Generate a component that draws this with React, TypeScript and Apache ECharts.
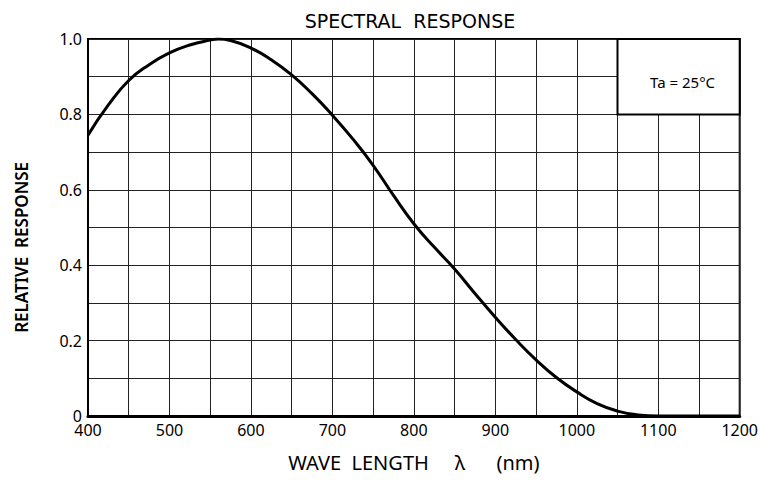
import React, { useEffect, useRef } from "react";
import * as echarts from "echarts";

const wavelengths = [400, 425, 450, 475, 500, 525, 550, 560, 575, 600, 625, 650, 675, 700, 725, 750, 775, 800, 825, 850, 875, 900, 925, 950, 975, 1000, 1025, 1050, 1075, 1100, 1150, 1200];
const response = [0.745, 0.825, 0.89, 0.932, 0.963, 0.984, 0.997, 1.0, 0.996, 0.976, 0.945, 0.905, 0.855, 0.798, 0.735, 0.665, 0.585, 0.51, 0.448, 0.39, 0.325, 0.262, 0.203, 0.149, 0.102, 0.064, 0.033, 0.013, 0.003, 0, 0, 0];
const xTickLabels = ["400", "500", "600", "700", "800", "900", "1000", "1100", "1200"];
const yTickLabels = ["0", "0.2", "0.4", "0.6", "0.8", "1.0"];
const legendBox = { x0: 1050, x1: 1200, y0: 0.8, y1: 1.0, text: "Ta = 25°C" };

const FONT = "'Noto Sans', 'Open Sans', sans-serif";
const WIDE = "'DejaVu Sans', 'Noto Sans', sans-serif";
const NB = "\u00A0";

export default function App() {
  const ref = useRef<HTMLDivElement>(null);
  useEffect(() => {
    if (!ref.current) return;
    const chart = echarts.init(ref.current, undefined, { renderer: "svg" });
    const data = wavelengths.map((w, i) => [w, response[i]]);
    chart.setOption({
      animation: false,
      backgroundColor: "#fff",
      title: {
        text: "SPECTRAL" + NB + NB + "RESPONSE",
        left: 405,
        top: 6,
        textAlign: "center",
        textStyle: { fontFamily: WIDE, fontSize: 19, fontWeight: "normal", color: "#000" },
      },
      grid: {
        left: 88,
        right: 20,
        top: 39,
        bottom: 64,
        show: true,
        borderColor: "#000",
        borderWidth: 2,
        backgroundColor: "transparent",
      },
      xAxis: {
        type: "value",
        min: 400,
        max: 1200,
        interval: 50,
        name: "WAVE" + NB + NB + "LENGTH" + NB.repeat(5) + "λ" + NB.repeat(6) + "(nm)",
        nameLocation: "middle",
        nameGap: 36,
        nameTextStyle: { fontFamily: FONT, fontSize: 20, color: "#000" },
        axisLine: { show: true, lineStyle: { color: "#000", width: 3 } },
        axisTick: { show: false },
        splitLine: { show: true, lineStyle: { color: "#222", width: 1 } },
        axisLabel: {
          fontFamily: FONT,
          fontSize: 16,
          lineHeight: 12,
          color: "#000",
          margin: 8,
          formatter: (v: number) => {
            const s = String(Math.round(v));
            return xTickLabels.includes(s) ? s : "";
          },
        },
      },
      yAxis: {
        type: "value",
        min: 0,
        max: 1,
        interval: 0.1,
        name: "RELATIVE" + NB + NB + "RESPONSE" + NB.repeat(9),
        nameLocation: "middle",
        nameRotate: 90,
        nameGap: 58,
        nameTextStyle: { fontFamily: FONT, fontSize: 17, fontWeight: 600, color: "#000" },
        axisLine: { show: true, lineStyle: { color: "#000", width: 2 } },
        axisTick: { show: false },
        splitLine: { show: true, lineStyle: { color: "#222", width: 1 } },
        axisLabel: {
          fontFamily: FONT,
          fontSize: 16,
          lineHeight: 12,
          color: "#000",
          margin: 6,
          formatter: (v: number) => {
            const t = Math.round(v * 10);
            if (t % 2 !== 0) return "";
            return yTickLabels[t / 2];
          },
        },
      },
      series: [
        {
          type: "line",
          data,
          smooth: 0.5,
          showSymbol: false,
          lineStyle: { color: "#000", width: 3 },
          z: 3,
          markArea: {
            silent: true,
            itemStyle: { color: "#fff", borderColor: "#000", borderWidth: 2 },
            label: {
              show: true,
              position: "inside",
              offset: [4, 5],
              formatter: legendBox.text,
              fontFamily: FONT,
              fontSize: 15,
              color: "#000",
            },
            data: [[{ coord: [legendBox.x0, legendBox.y1] }, { coord: [legendBox.x1, legendBox.y0] }]],
          },
        },
      ],
    });
    return () => chart.dispose();
  }, []);
  return <div ref={ref} style={{ position: "absolute", left: 0, top: 0, width: 761, height: 480 }} />;
}
